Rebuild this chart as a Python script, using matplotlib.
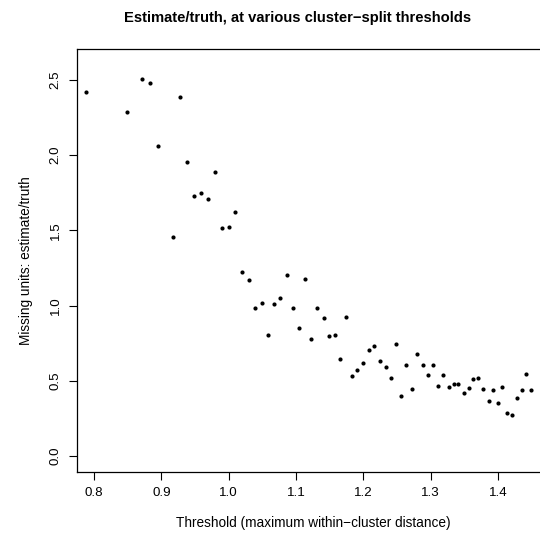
import matplotlib
matplotlib.use('Agg')
import matplotlib.pyplot as plt

plt.rcParams['font.family'] = ['Liberation Sans', 'DejaVu Sans']

# threshold values and estimate/truth ratios
threshold = [0.788, 0.849, 0.872, 0.883, 0.895, 0.917, 0.927, 0.938, 0.949,
             0.959, 0.969, 0.980, 0.990, 1.001, 1.010, 1.020, 1.030, 1.039,
             1.049, 1.058, 1.067, 1.077, 1.086, 1.095, 1.105, 1.114, 1.122,
             1.131, 1.141, 1.149, 1.158, 1.166, 1.174, 1.183, 1.191, 1.200,
             1.208, 1.216, 1.225, 1.233, 1.241, 1.249, 1.256, 1.264, 1.272,
             1.280, 1.288, 1.296, 1.304, 1.311, 1.319, 1.327, 1.334, 1.341,
             1.349, 1.357, 1.363, 1.371, 1.378, 1.386, 1.392, 1.400, 1.406,
             1.414, 1.421, 1.428, 1.435, 1.442, 1.449]
ratio = [2.419, 2.286, 2.505, 2.478, 2.060, 1.455, 2.385, 1.953, 1.727,
         1.747, 1.708, 1.887, 1.515, 1.523, 1.621, 1.223, 1.169, 0.983,
         1.017, 0.804, 1.010, 1.050, 1.203, 0.983, 0.850, 1.176, 0.777,
         0.983, 0.917, 0.797, 0.804, 0.644, 0.924, 0.532, 0.571, 0.618,
         0.704, 0.731, 0.631, 0.591, 0.518, 0.744, 0.399, 0.605, 0.445,
         0.678, 0.605, 0.538, 0.605, 0.465, 0.538, 0.458, 0.478, 0.478,
         0.419, 0.452, 0.512, 0.518, 0.445, 0.367, 0.439, 0.353, 0.458,
         0.288, 0.274, 0.385, 0.439, 0.547, 0.439]

x_ticks = [0.8, 0.9, 1.0, 1.1, 1.2, 1.3, 1.4]
y_ticks = [0.0, 0.5, 1.0, 1.5, 2.0, 2.5]

fig = plt.figure(figsize=(5.4, 5.4), dpi=100)
ax = fig.add_axes([76.7 / 540, (540 - 472.3) / 540,
                   (550 - 76.7) / 540, (472.3 - 49) / 540])

ax.scatter(threshold, ratio, s=9, color='black', linewidths=0)

ax.set_xlim(0.7743, 1.4773)
ax.set_ylim(-0.108, 2.704)
ax.set_xticks(x_ticks)
ax.set_xticklabels(['%.1f' % t for t in x_ticks])
ax.set_yticks(y_ticks)
ax.set_yticklabels(['%.1f' % t for t in y_ticks], rotation=90, va='center')
ax.tick_params(labelsize=9.6, length=5.8, width=0.8, pad=5)
for s in ax.spines.values():
    s.set_linewidth(0.9)

ax.set_xlabel('Threshold (maximum within\u2212cluster distance)',
              fontsize=9.8, labelpad=12)
ax.set_ylabel('Missing units: estimate/truth', fontsize=9.8, labelpad=12)
fig.text(298 / 540, 1 - 18 / 540,
         'Estimate/truth, at various cluster\u2212split thresholds',
         ha='center', va='center', fontsize=10.6, fontweight='bold')

fig.savefig('out.png', dpi=100)
